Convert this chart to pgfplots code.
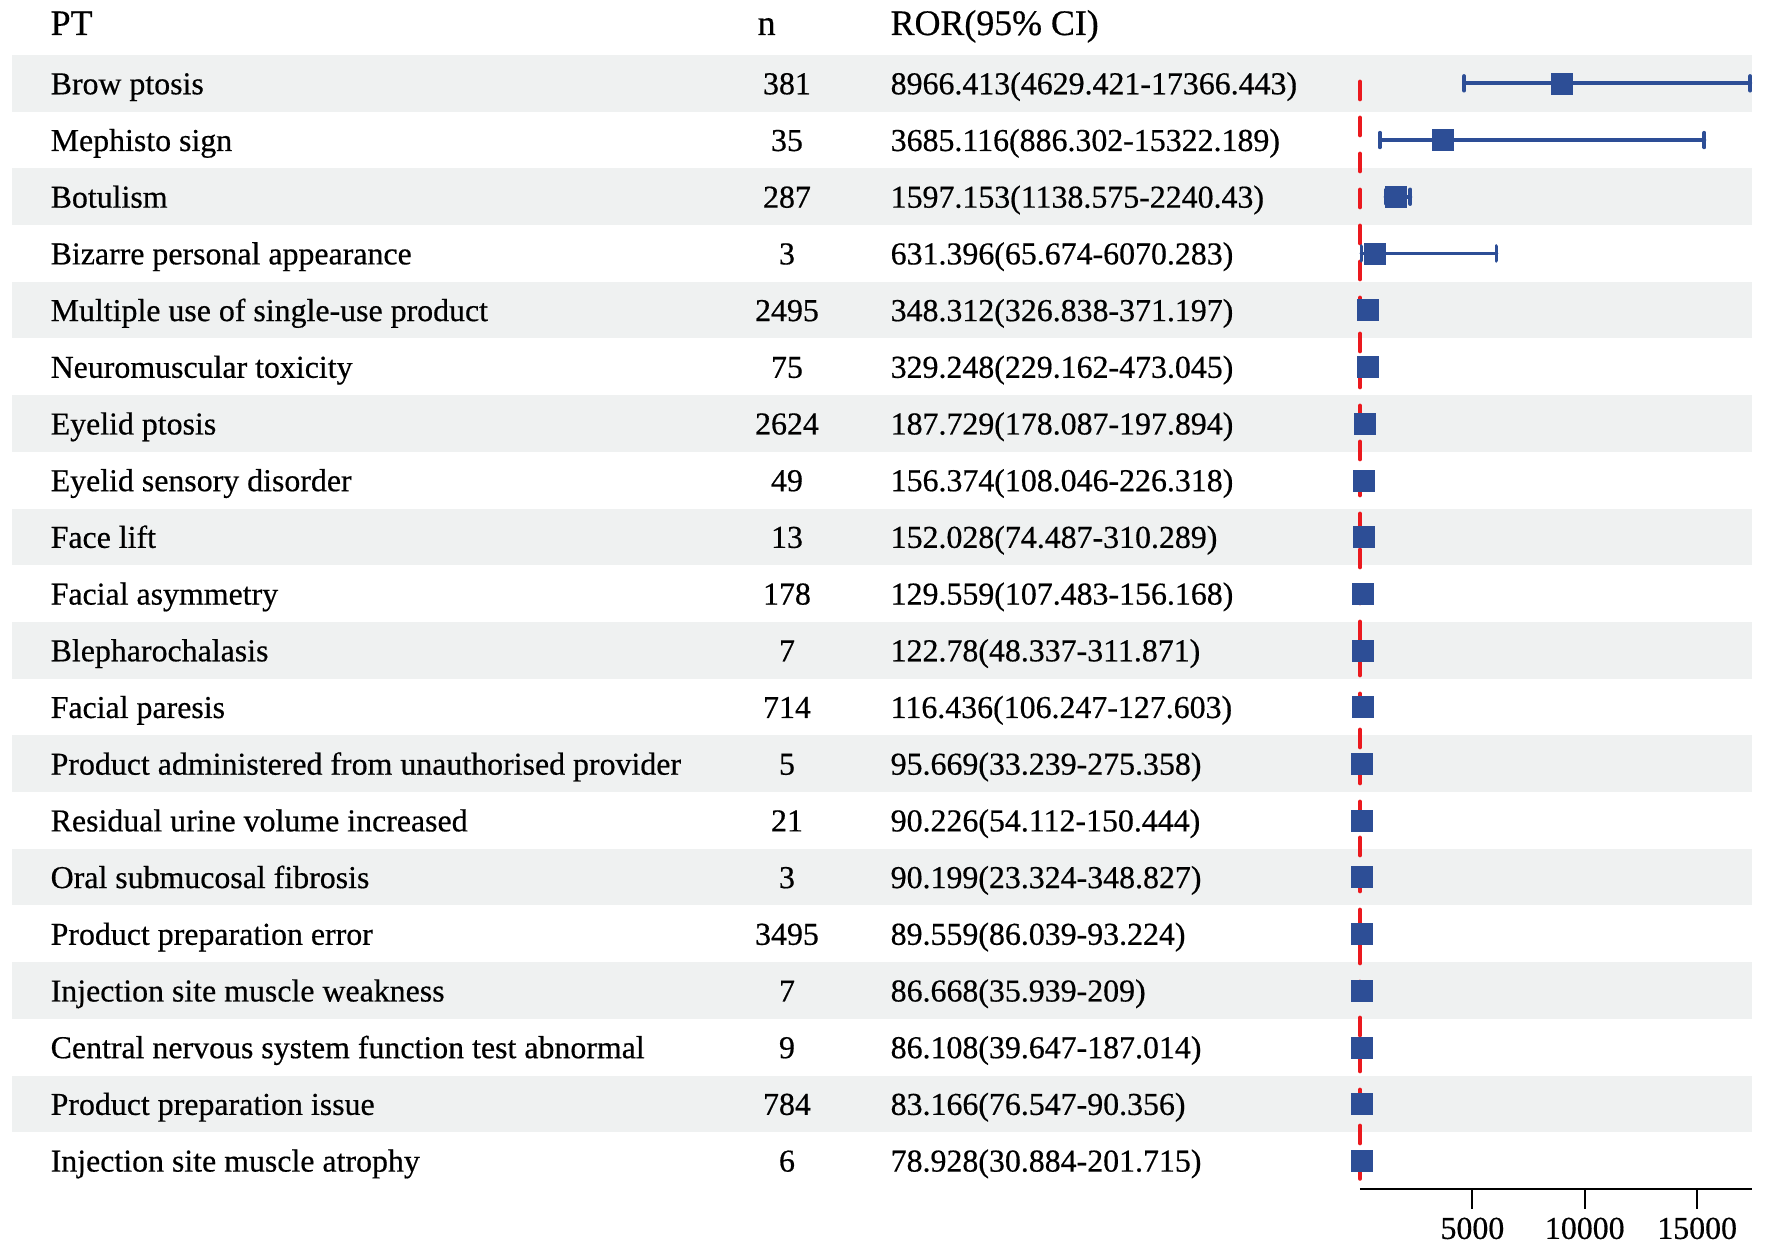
\documentclass[border=0pt]{standalone}
\usepackage{fontspec}
\setmainfont{Liberation Serif}
\usepackage{pgfplots}
\pgfplotsset{compat=1.18}
\usepackage{pgfplotstable}
\definecolor{bandgray}{RGB}{239,241,241}
\definecolor{fblue}{RGB}{45,78,150}
\definecolor{fred}{RGB}{235,25,30}

\pgfplotstableread[col sep=comma]{
idx,est,lo,hi
0,8966.413,4629.421,17366.443
1,3685.116,886.302,15322.189
2,1597.153,1138.575,2240.43
3,631.396,65.674,6070.283
4,348.312,326.838,371.197
5,329.248,229.162,473.045
6,187.729,178.087,197.894
7,156.374,108.046,226.318
8,152.028,74.487,310.289
9,129.559,107.483,156.168
10,122.78,48.337,311.871
11,116.436,106.247,127.603
12,95.669,33.239,275.358
13,90.226,54.112,150.444
14,90.199,23.324,348.827
15,89.559,86.039,93.224
16,86.668,35.939,209
17,86.108,39.647,187.014
18,83.166,76.547,90.356
19,78.928,30.884,201.715
}\rordata

\newcommand{\tf}{\fontsize{9.07}{11}\selectfont\addfontfeature{FakeBold=0.5}}
\newcommand{\hf}{\fontsize{10.2}{12}\selectfont\addfontfeature{FakeBold=0.5}}

\begin{document}
\begin{tikzpicture}[font=\tf]
\path[use as bounding box] (-136mm,-6.5mm) rectangle (41.2mm,118.9mm);
\begin{axis}[
  scale only axis, width=39.2mm, height=113.4mm,
  at={(0,0)}, anchor=south west,
  xmin=0, xmax=17440, ymin=-0.5, ymax=19.5, y dir=reverse,
  clip=false,
  axis y line=none, axis x line*=bottom,
  x axis line style={-, line width=0.25mm, black},
  xtick={5000,10000,15000}, ytick=\empty,
  scaled x ticks=false,
  tick align=outside, major tick length=2mm,
  every tick/.style={line width=0.22mm, black},
  tick label style={font=\tf},
  /pgf/number format/assume math mode=true,
  /pgf/number format/1000 sep={},
  xticklabel style={anchor=north, inner sep=0pt, yshift=-0.8mm},
]
\addplot[fill=bandgray, draw=none, forget plot] coordinates {(-59972,-0.5) (17440,-0.5) (17440,0.5) (-59972,0.5)} --cycle;
\addplot[fill=bandgray, draw=none, forget plot] coordinates {(-59972,1.5) (17440,1.5) (17440,2.5) (-59972,2.5)} --cycle;
\addplot[fill=bandgray, draw=none, forget plot] coordinates {(-59972,3.5) (17440,3.5) (17440,4.5) (-59972,4.5)} --cycle;
\addplot[fill=bandgray, draw=none, forget plot] coordinates {(-59972,5.5) (17440,5.5) (17440,6.5) (-59972,6.5)} --cycle;
\addplot[fill=bandgray, draw=none, forget plot] coordinates {(-59972,7.5) (17440,7.5) (17440,8.5) (-59972,8.5)} --cycle;
\addplot[fill=bandgray, draw=none, forget plot] coordinates {(-59972,9.5) (17440,9.5) (17440,10.5) (-59972,10.5)} --cycle;
\addplot[fill=bandgray, draw=none, forget plot] coordinates {(-59972,11.5) (17440,11.5) (17440,12.5) (-59972,12.5)} --cycle;
\addplot[fill=bandgray, draw=none, forget plot] coordinates {(-59972,13.5) (17440,13.5) (17440,14.5) (-59972,14.5)} --cycle;
\addplot[fill=bandgray, draw=none, forget plot] coordinates {(-59972,15.5) (17440,15.5) (17440,16.5) (-59972,16.5)} --cycle;
\addplot[fill=bandgray, draw=none, forget plot] coordinates {(-59972,17.5) (17440,17.5) (17440,18.5) (-59972,18.5)} --cycle;
% reference line
\addplot[fred, line width=0.4mm, dash pattern=on 1.77mm off 1.83mm, line cap=round] coordinates {(1,-0.03) (1,19.32)};
% estimates with CI
\addplot[only marks, mark=square*, mark size=1.05mm,
  mark options={fill=fblue, draw=fblue, line width=0.1pt},
  error bars/.cd, x dir=both, x explicit,
  error bar style={line width=0.38mm, fblue, line cap=round},
  error mark options={rotate=90, line width=0.38mm, fblue, mark size=0.73mm, line cap=round}]
  table[x=est, y=idx, x error plus expr=\thisrow{hi}-\thisrow{est}, x error minus expr=\thisrow{est}-\thisrow{lo}] {\rordata};
\end{axis}
% table text
\node[anchor=base west, inner sep=0pt, font=\hf] at (-131mm,115.4mm) {PT};
\node[anchor=base west, inner sep=0pt, font=\hf] at (-60.3mm,115.4mm) {n};
\node[anchor=base west, inner sep=0pt, font=\hf] at (-47mm,115.4mm) {ROR(95\% CI)};
\foreach \i/\name/\n/\ror in {
0/Brow ptosis/381/8966.413(4629.421-17366.443),
1/Mephisto sign/35/3685.116(886.302-15322.189),
2/Botulism/287/1597.153(1138.575-2240.43),
3/Bizarre personal appearance/3/631.396(65.674-6070.283),
4/Multiple use of single-use product/2495/348.312(326.838-371.197),
5/Neuromuscular toxicity/75/329.248(229.162-473.045),
6/Eyelid ptosis/2624/187.729(178.087-197.894),
7/Eyelid sensory disorder/49/156.374(108.046-226.318),
8/Face lift/13/152.028(74.487-310.289),
9/Facial asymmetry/178/129.559(107.483-156.168),
10/Blepharochalasis/7/122.78(48.337-311.871),
11/Facial paresis/714/116.436(106.247-127.603),
12/Product administered from unauthorised provider/5/95.669(33.239-275.358),
13/Residual urine volume increased/21/90.226(54.112-150.444),
14/Oral submucosal fibrosis/3/90.199(23.324-348.827),
15/Product preparation error/3495/89.559(86.039-93.224),
16/Injection site muscle weakness/7/86.668(35.939-209),
17/Central nervous system function test abnormal/9/86.108(39.647-187.014),
18/Product preparation issue/784/83.166(76.547-90.356),
19/Injection site muscle atrophy/6/78.928(30.884-201.715)} {
  \pgfmathsetmacro\yy{110.57-5.67*\i-1.1}
  \node[anchor=base west, inner sep=0pt] at (-131mm,\yy mm) {\name};
  \node[anchor=base, inner sep=0pt] at (-57.3mm,\yy mm) {\n};
  \node[anchor=base west, inner sep=0pt] at (-47mm,\yy mm) {\ror};
}
\end{tikzpicture}
\end{document}
